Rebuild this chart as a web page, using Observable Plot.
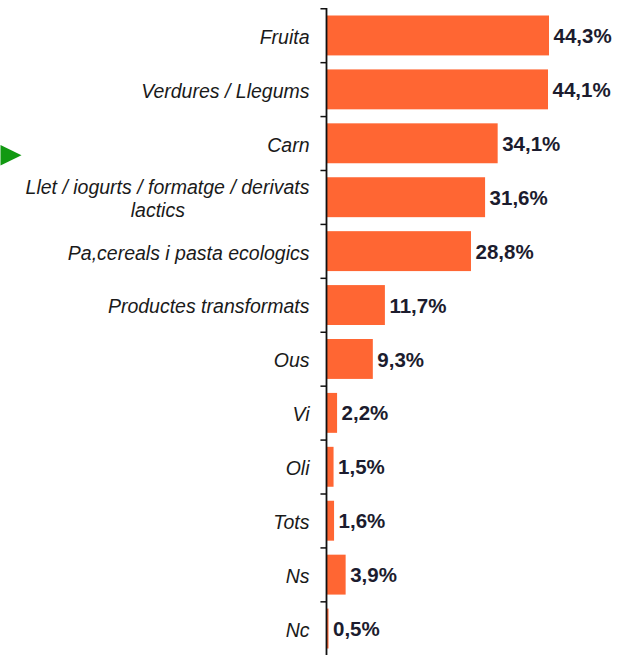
<!DOCTYPE html>
<html><head><meta charset="utf-8">
<script src="https://cdn.jsdelivr.net/npm/d3@7"></script>
<script src="https://cdn.jsdelivr.net/npm/@observablehq/plot@0.6"></script>
<style>body{margin:0;background:#fff}</style>
</head><body><div id="chart"></div>
<script>
const categories = ["Fruita","Verdures / Llegums","Carn","Llet / iogurts / formatge / derivats lactics","Pa,cereals i pasta ecologics","Productes transformats","Ous","Vi","Oli","Tots","Ns","Nc"];
const categoryLabels = ["Fruita","Verdures / Llegums","Carn","Llet / iogurts / formatge / derivats\nlactics" + "\u00A0".repeat(23),"Pa,cereals i pasta ecologics","Productes transformats","Ous","Vi","Oli","Tots","Ns","Nc"];
const values = [44.3,44.1,34.1,31.6,28.8,11.7,9.3,2.2,1.5,1.6,3.9,0.5];
const valueLabels = ["44,3%","44,1%","34,1%","31,6%","28,8%","11,7%","9,3%","2,2%","1,5%","1,6%","3,9%","0,5%"];
const highlighted = ["Carn"];

const data = categories.map((c, i) => ({cat: c, label: categoryLabels[i], value: values[i], vlabel: valueLabels[i]}));

const W = 621, H = 655, mTop = 8, mLeft = 326;
const bw = (H - mTop) / categories.length;

const rightTriangle = {
  draw(ctx, size) {
    const s = Math.sqrt(size) / 2;
    ctx.moveTo(s, 0);
    ctx.lineTo(-s, -s * 0.98);
    ctx.lineTo(-s, s * 0.98);
    ctx.closePath();
  }
};

const chart = Plot.plot({
  width: W, height: H,
  marginLeft: mLeft, marginRight: 0, marginTop: mTop, marginBottom: 0,
  style: {fontFamily: "'Liberation Sans', Arial, sans-serif", background: "#fff"},
  x: {domain: [0, 58.6], axis: null},
  y: {domain: categories, axis: null, padding: 0, round: false},
  marks: [
    Plot.barX(data, {y: "cat", x: "value", fill: "#ff6633", insetTop: 7.5, insetBottom: 6.5}),
    Plot.barX(categories, {y: d => d, x1: -1.1, x2: 0, fill: "#111", insetBottom: bw - 1.5}),
    Plot.ruleX([0], {stroke: "#111", strokeWidth: 1.8}),
    Plot.text(data, {y: "cat", text: "label", frameAnchor: "left", dx: -17, dy: 1, textAnchor: "end",
      fontStyle: "italic", fontSize: 19.5, fill: "#1a1a1a", lineHeight: 1.18}),
    Plot.text(data, {y: "cat", x: "value", text: "vlabel", dx: 4, dy: 1, textAnchor: "start",
      fontWeight: "bold", fontSize: 20.5, fill: "#1c1c2e"}),
    Plot.dot(highlighted, {y: d => d, frameAnchor: "left", dx: -315.5, dy: 12, symbol: rightTriangle,
      r: 11.85, fill: "#119911", stroke: "none"})
  ]
});
document.getElementById("chart").appendChild(chart);
</script>
</body></html>
